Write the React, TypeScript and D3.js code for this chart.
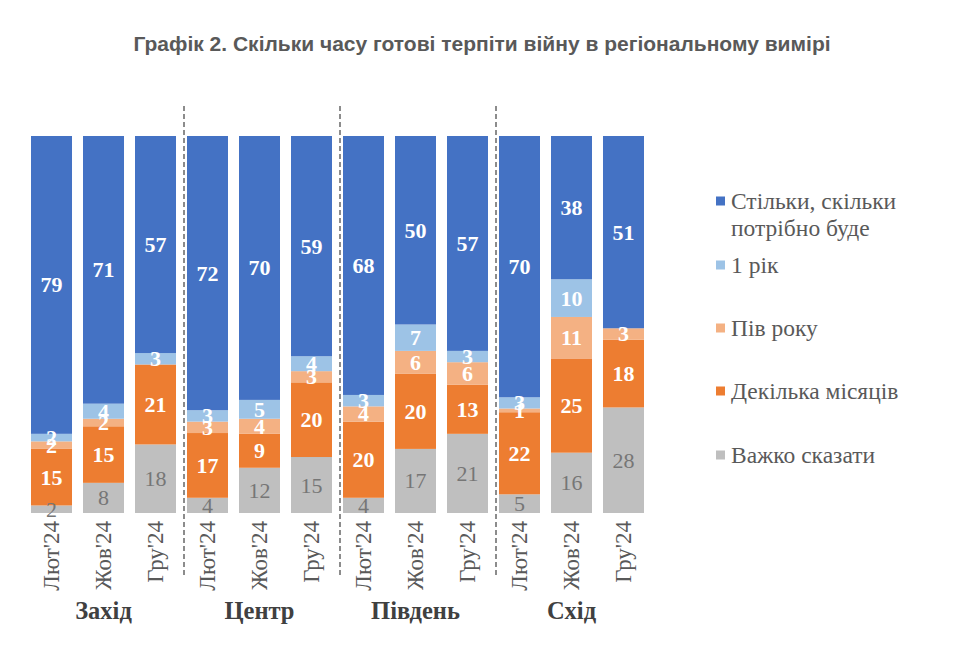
import React from "react";
import * as d3 from "d3";

const regions = ["Захід", "Центр", "Південь", "Схід"];
const periods = ["Лют'24", "Жов'24", "Гру'24"];
const seriesNames = [
  "Важко сказати",
  "Декілька місяців",
  "Пів року",
  "1 рік",
  "Стільки, скільки потрібно буде",
];
const seriesColors = ["#BFBFBF", "#ED7D31", "#F4B183", "#9DC3E6", "#4472C4"];
// values per bar (region × period), in order Захід, Центр, Південь, Схід
const hard = [2, 8, 18, 4, 12, 15, 4, 17, 21, 5, 16, 28];
const months = [15, 15, 21, 17, 9, 20, 20, 20, 13, 22, 25, 18];
const halfYear = [2, 2, 0, 3, 4, 3, 4, 6, 6, 1, 11, 3];
const oneYear = [2, 4, 3, 3, 5, 4, 3, 7, 3, 3, 10, 0];
const asLong = [79, 71, 57, 72, 70, 59, 68, 50, 57, 70, 38, 51];

const W = 954;
const H = 646;

export default function App() {
  const series = [hard, months, halfYear, oneYear, asLong];
  const bars = regions.flatMap((r) => periods.map((p) => `${r}|${p}`));
  const x = d3
    .scaleBand<string>()
    .domain(bars)
    .range([25.5, 649.5])
    .paddingInner(0.2115)
    .paddingOuter(0.1058);
  const y = d3.scaleLinear().domain([0, 100]).range([513, 136]);
  const bw = x.bandwidth();

  const rows = bars.map((b, i) => {
    const row: any = { key: b };
    const total = d3.sum(series, (s) => s[i]);
    series.forEach((s, k) => (row[k] = (s[i] / total) * 100));
    return row;
  });
  const stack = d3.stack<any>().keys(series.map((_, k) => String(k)));
  const stacked = stack(rows);

  const legendItems = [
    { k: 4, lines: ["Стільки, скільки", "потрібно буде"], y: 201 },
    { k: 3, lines: ["1 рік"], y: 265 },
    { k: 2, lines: ["Пів року"], y: 328 },
    { k: 1, lines: ["Декілька місяців"], y: 391 },
    { k: 0, lines: ["Важко сказати"], y: 455 },
  ];

  const serifFam = "Liberation Serif";

  return (
    <svg
      width={W}
      height={H}
      style={{ position: "absolute", left: 0, top: 0, background: "#fff" }}
    >
      <rect x={0} y={0} width={W} height={H} fill="#fff" />
      <text
        x={482}
        y={51}
        textAnchor="middle"
        fontFamily="Liberation Sans"
        fontWeight="bold"
        fontSize={21}
        fill="#595959"
      >
        Графік 2. Скільки часу готові терпіти війну в регіональному вимірі
      </text>

      {stacked.map((layer, k) => (
        <g key={k} fill={seriesColors[k]}>
          {layer.map((d, i) => (
            <rect
              key={i}
              x={x(bars[i])}
              y={y(d[1])}
              width={bw}
              height={Math.max(0, y(d[0]) - y(d[1]))}
            />
          ))}
        </g>
      ))}

      {stacked.map((layer, k) => (
        <g key={"l" + k}>
          {layer.map((d, i) => {
            const v = series[k][i];
            if (!v) return null;
            return (
              <text
                key={i}
                x={(x(bars[i]) as number) + bw / 2}
                y={(y(d[0]) + y(d[1])) / 2}
                textAnchor="middle"
                dominantBaseline="central"
                fontFamily={serifFam}
                fontSize={22}
                fontWeight={k === 0 ? "normal" : "bold"}
                fill={k === 0 ? "#767676" : "#fff"}
              >
                {v}
              </text>
            );
          })}
        </g>
      ))}

      {[1, 2, 3].map((g) => {
        const prevEnd = (x(bars[g * 3 - 1]) as number) + bw;
        const next = x(bars[g * 3]) as number;
        const lx = (prevEnd + next) / 2 + 2.5;
        return (
          <line
            key={g}
            x1={lx}
            x2={lx}
            y1={106}
            y2={576}
            stroke="#8C8C8C"
            strokeWidth={2}
            strokeDasharray="5,3"
          />
        );
      })}

      {bars.map((b, i) => {
        const cx = (x(b) as number) + bw / 2;
        return (
          <text
            key={b}
            transform={`translate(${cx},521) rotate(-90)`}
            textAnchor="end"
            dominantBaseline="central"
            fontFamily={serifFam}
            fontSize={23}
            fill="#595959"
          >
            {periods[i % 3]}
          </text>
        );
      })}

      {regions.map((r, g) => {
        const cx = (x(bars[g * 3 + 1]) as number) + bw / 2;
        return (
          <text
            key={r}
            x={cx}
            y={619}
            textAnchor="middle"
            fontFamily={serifFam}
            fontWeight="bold"
            fontSize={24.5}
            fill="#404040"
          >
            {r}
          </text>
        );
      })}

      {legendItems.map((it) => (
        <g key={it.k}>
          <rect
            x={716}
            y={it.y - 4.5}
            width={9}
            height={9}
            fill={seriesColors[it.k]}
          />
          {it.lines.map((ln, j) => (
            <text
              key={j}
              x={731}
              y={it.y + j * 27}
              dominantBaseline="central"
              fontFamily={serifFam}
              fontSize={23.5}
              fill="#595959"
            >
              {ln}
            </text>
          ))}
        </g>
      ))}
    </svg>
  );
}
